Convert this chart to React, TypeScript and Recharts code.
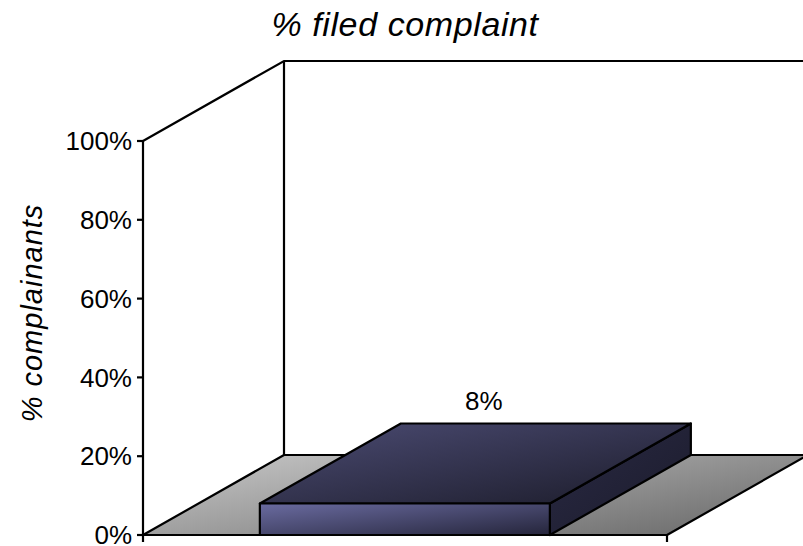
import { BarChart, Bar, XAxis, YAxis, ReferenceArea, LabelList } from "recharts"

// single category, share of complainants who filed a complaint
const categories = ["Filed complaint"]
const filedShare = [0.08]
const yTicks = [0, 0.2, 0.4, 0.6, 0.8, 1]

const data = categories.map((name, i) => ({ name, value: filedShare[i] }))

// pseudo-3D depth offset used by the walls, floor and bar
const DEPTH_X = 141
const DEPTH_Y = 80

const font = "'Liberation Sans', Arial, sans-serif"
const pct = (v: number) => `${Math.round(v * 100)}%`

// back wall outline + grey floor, drawn from the plot rect the ReferenceArea gets
const WallsAndFloor = (props: any) => {
  const { x, y, width, height } = props
  const bottom = y + height
  const floor = [
    [x, bottom],
    [x + DEPTH_X, bottom - DEPTH_Y],
    [x + width + DEPTH_X, bottom - DEPTH_Y],
    [x + width, bottom],
  ]
    .map((p) => p.join(","))
    .join(" ")
  return (
    <g>
      <defs>
        <linearGradient id="floorFill" x1="0" y1="0" x2="1" y2="0.7">
          <stop offset="0%" stopColor="#c9c9c9" />
          <stop offset="100%" stopColor="#727272" />
        </linearGradient>
      </defs>
      <polygon points={floor} fill="url(#floorFill)" stroke="#000" strokeWidth={2.2} strokeLinejoin="round" />
      <polyline
        points={`${x},${y} ${x + DEPTH_X},${y - DEPTH_Y} ${x + width + DEPTH_X},${y - DEPTH_Y}`}
        fill="none"
        stroke="#000"
        strokeWidth={2.2}
      />
      <line x1={x + DEPTH_X} y1={y - DEPTH_Y} x2={x + DEPTH_X} y2={bottom - DEPTH_Y} stroke="#000" strokeWidth={2.2} />
      <line x1={x} y1={bottom} x2={x} y2={bottom + 7} stroke="#000" strokeWidth={2.2} />
      <line x1={x + width} y1={bottom} x2={x + width} y2={bottom + 7} stroke="#000" strokeWidth={2.2} />
    </g>
  )
}

const Box3D = (props: any) => {
  const { x, y, width, height } = props
  const top = [
    [x, y],
    [x + DEPTH_X, y - DEPTH_Y],
    [x + width + DEPTH_X, y - DEPTH_Y],
    [x + width, y],
  ]
  const side = [
    [x + width, y],
    [x + width + DEPTH_X, y - DEPTH_Y],
    [x + width + DEPTH_X, y + height - DEPTH_Y],
    [x + width, y + height],
  ]
  const pts = (a: number[][]) => a.map((p) => p.join(",")).join(" ")
  return (
    <g stroke="#000" strokeWidth={2.2} strokeLinejoin="round">
      <defs>
        <linearGradient id="boxFront" x1="0" y1="0" x2="1" y2="1">
          <stop offset="0%" stopColor="#6a6ba0" />
          <stop offset="100%" stopColor="#25253b" />
        </linearGradient>
        <linearGradient id="boxTop" x1="0" y1="0" x2="1" y2="1">
          <stop offset="0%" stopColor="#4c4c74" />
          <stop offset="100%" stopColor="#1b1b29" />
        </linearGradient>
        <linearGradient id="boxSide" x1="0" y1="0" x2="1" y2="1">
          <stop offset="0%" stopColor="#2a2a44" />
          <stop offset="100%" stopColor="#1b1b2b" />
        </linearGradient>
      </defs>
      <polygon points={pts(side)} fill="url(#boxSide)" />
      <polygon points={pts(top)} fill="url(#boxTop)" />
      <rect x={x} y={y} width={width} height={height} fill="url(#boxFront)" />
    </g>
  )
}

const ValueLabel = (props: any) => {
  const { x, y, width, value } = props
  return (
    <text
      x={x + width / 2 + DEPTH_X * 0.56}
      y={y - DEPTH_Y - 13}
      textAnchor="middle"
      fontFamily={font}
      fontSize={26}
      fill="#000"
    >
      {pct(value)}
    </text>
  )
}

const AxisTitle = (props: any) => {
  const { viewBox } = props
  const cy = viewBox.y + viewBox.height / 2 - 25
  return (
    <text
      x={32}
      y={cy}
      transform={`rotate(-90 32 ${cy})`}
      textAnchor="middle"
      dominantBaseline="central"
      fontFamily={font}
      fontStyle="italic"
      fontSize={29}
      letterSpacing={1}
      fill="#000"
    >
      % complainants
    </text>
  )
}

export default function App() {
  return (
    <div style={{ position: "absolute", left: 0, top: 0, width: 803, height: 546, background: "#fff" }}>
      <div
        style={{
          position: "absolute",
          left: 0,
          top: 7,
          width: 810,
          textAlign: "center",
          fontFamily: font,
          fontStyle: "italic",
          fontSize: 34,
          lineHeight: "34px",
          letterSpacing: 0.6,
        }}
      >
        % filed complaint
      </div>
      <BarChart
        width={803}
        height={546}
        data={data}
        margin={{ top: 141, right: 136, bottom: 0, left: 0 }}
        barCategoryGap="22.3%"
      >
        <ReferenceArea y1={0} y2={1} shape={<WallsAndFloor />} ifOverflow="visible" />
        <XAxis dataKey="name" height={11} tick={false} tickLine={false} axisLine={{ stroke: "#000", strokeWidth: 2.2 }} />
        <YAxis
          width={143}
          domain={[0, 1]}
          ticks={yTicks}
          interval={0}
          tickFormatter={pct}
          tickSize={6}
          tickMargin={5}
          axisLine={{ stroke: "#000", strokeWidth: 2.2 }}
          tickLine={{ stroke: "#000", strokeWidth: 2.2 }}
          tick={{ fill: "#000", fontSize: 26, fontFamily: font }}
          label={{ content: <AxisTitle /> }}
        />
        <Bar dataKey="value" shape={<Box3D />} isAnimationActive={false}>
          <LabelList dataKey="value" content={<ValueLabel />} />
        </Bar>
      </BarChart>
    </div>
  )
}
